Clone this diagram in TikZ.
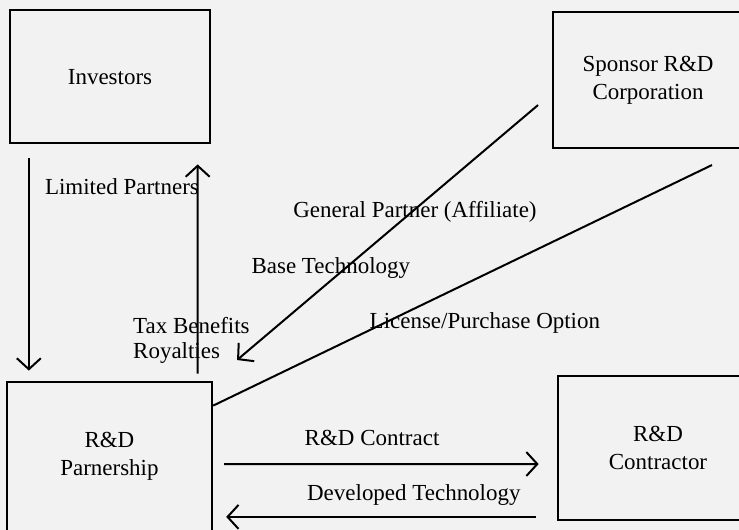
\documentclass[tikz,border=0pt]{standalone}
\usepackage{fontspec}
\setmainfont{Liberation Serif}
\usepackage{xcolor}
\usepackage{tikz}
\usetikzlibrary{arrows.meta,positioning}

\begin{document}
\begin{tikzpicture}[
    font=\fontsize{23}{28}\selectfont,
    party/.style={draw, line width=2.6pt, align=center, inner sep=0pt},
    flow/.style={-{Straight Barb[length=11pt,width=24pt]}, line width=2pt},
    link/.style={line width=2pt},
    lbl/.style={inner sep=0pt, align=left}
]
    % Page background and frame
    \fill[black!5] (0,0) rectangle (26,18.646);
    \useasboundingbox (0,0) rectangle (26,18.646);

    % The four parties
    \node[party, minimum width=7.04cm, minimum height=4.68cm] (inv) at (3.87,15.95) {Investors};
    \node[party, minimum width=6.69cm, minimum height=4.78cm] (spon) at (22.8,15.83) {Sponsor R\&D\\Corporation};
    \node[party, minimum width=7.21cm, minimum height=5.26cm] (rdp) at (3.85,2.58) {R\&D\\Parnership};
    \node[party, minimum width=7.04cm, minimum height=5.07cm] (con) at (23.15,2.88) {R\&D\\Contractor};

    % Investors <-> partnership
    \draw[flow, shorten <=14pt, shorten >=10pt] ([xshift=0.71cm]inv.south west) -- ([xshift=0.815cm]rdp.north west);
    \draw[flow, shorten <=7pt, shorten >=20pt] ([xshift=6.755cm]rdp.north west) -- ([xshift=6.65cm]inv.south west);
    \node[lbl] (lblLP) at (4.29,12.07) {Limited Partners};
    \node[lbl, anchor=west] (lblTax) at (4.68,7.21) {Tax Benefits};
    \node[lbl, anchor=west] (lblRoy) at (4.68,6.23) {Royalties};

    % Sponsor -> partnership (general partner / base technology)
    \coordinate (gpTop) at (18.93,14.95);
    \coordinate (gpTip) at (8.34,5.98);
    \draw[flow] (gpTop) -- (gpTip);
    \node[lbl] (lblGP) at (14.6,11.19) {General Partner (Affiliate)};
    \node[lbl] (lblBT) at (11.64,9.22) {Base Technology};

    % Partnership -- sponsor (license / purchase option)
    \coordinate (lpEnd) at (25.05,12.84);
    \draw[link] ([yshift=-0.88cm]rdp.north east) -- (lpEnd);
    \node[lbl] (lblLic) at (17.06,7.28) {License/Purchase Option};

    % Partnership <-> contractor
    \draw[flow, shorten <=11pt, shorten >=18pt] ([yshift=-0.26cm]rdp.east) -- ([yshift=-0.56cm]con.west);
    \node[lbl] (lblCon) at (13.09,3.25) {R\&D Contract};
    \draw[flow, shorten <=21pt, shorten >=13pt] ([yshift=-2.42cm]con.west) -- ([yshift=-2.12cm]rdp.east);
    \node[lbl] (lblDev) at (14.56,1.23) {Developed Technology};

\end{tikzpicture}
\end{document}
